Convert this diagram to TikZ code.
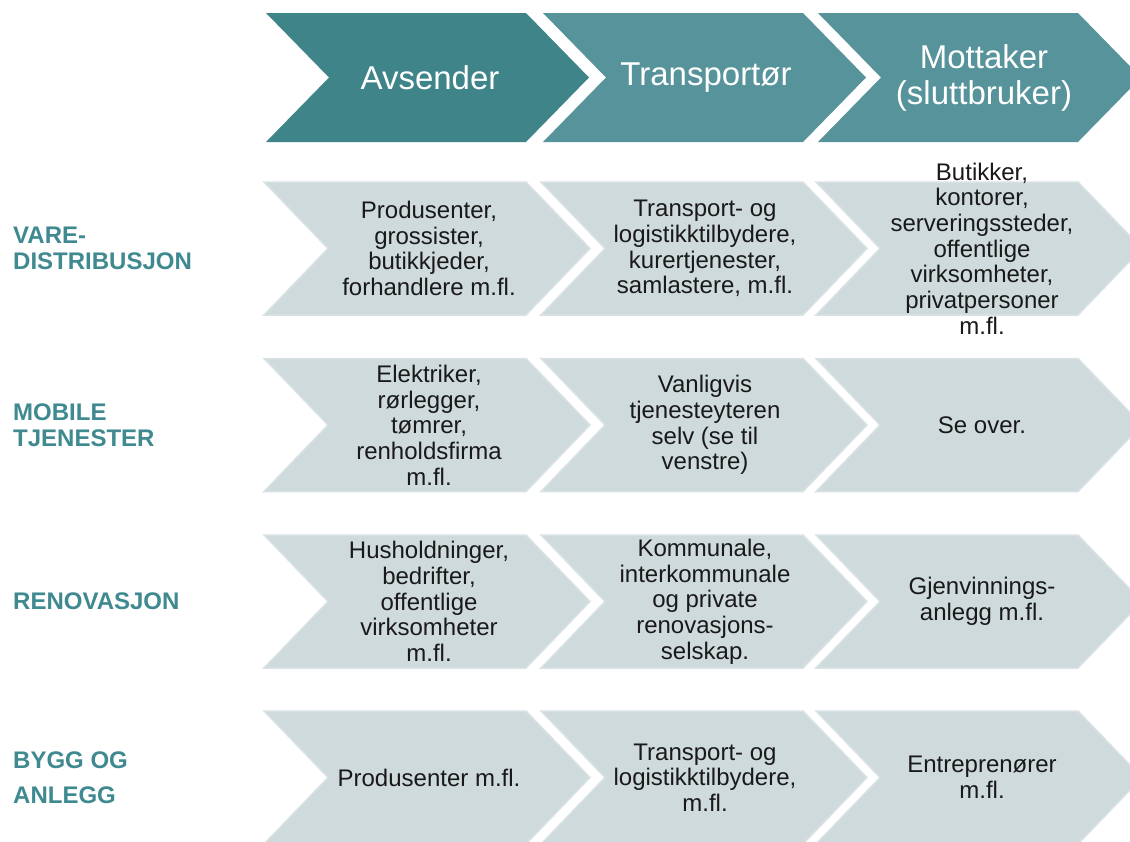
\documentclass[tikz,border=0pt]{standalone}
\usepackage{fontspec}
\setmainfont{Liberation Sans}
\usetikzlibrary{positioning}
\definecolor{headdark}{HTML}{3F8489}
\definecolor{headlight}{HTML}{56939A}
\definecolor{bodyfill}{HTML}{CFDADD}
\definecolor{bodyedge}{HTML}{D9E2E4}
\definecolor{labelteal}{HTML}{3F8990}
\tikzset{chevhead/.style={fill=headlight}}
\tikzset{chevbody/.style={fill=bodyfill,draw=bodyedge,line width=1.5pt}}
\tikzset{headtext/.style={text=white,align=center,inner sep=0pt,
font=\fontsize{33}{36}\selectfont}}
\tikzset{bodytext/.style={text=black!90,align=center,inner sep=0pt,
font=\fontsize{24}{25.7}\selectfont}}
\tikzset{rowlabel/.style={text=labelteal,align=left,anchor=west,inner sep=0pt,
font=\bfseries\fontsize{24}{25.7}\selectfont}}

\begin{document}
\begin{tikzpicture}[x=1pt,y=-1pt]
    \clip (0,0) rectangle (1130,841);
    \fill[white] (0,0) rectangle (1130,841);

    % header chevrons
    \fill[chevhead,fill=headdark] (266,13) -- ++(260,0) -- ++(63,64.5) -- ++(-63,64.5) -- ++(-260,0) -- ++(63,-64.5) -- cycle;
    \foreach \xl in {543,818}
        \fill[chevhead] (\xl,13) -- ++(260,0) -- ++(63,64.5) -- ++(-63,64.5) -- ++(-260,0) -- ++(63,-64.5) -- cycle;

    % body chevrons
    \foreach \yt in {182,358.5,535,711}
        \foreach \xl in {264,541,816}
            \path[chevbody] (\xl,\yt) -- ++(262,0) -- ++(64,66.5) -- ++(-64,66.5) -- ++(-262,0) -- ++(64,-66.5) -- cycle;

    \node[headtext] (hAvs) at (430,77.5) {Avsender};
    \node[headtext] (hTra) at (706,77.5) {Transportør};
    \node[headtext] (hMot) at (984,77.5) {Mottaker\\(sluttbruker)};

    \node[rowlabel] (lVare) at (13,248.5) {VARE-\\DISTRIBUSJON};
    \node[rowlabel] (lMob) at (13,425) {MOBILE\\TJENESTER};
    \node[rowlabel] (lRen) at (13,601.5) {RENOVASJON};
    \node[rowlabel,font=\bfseries\fontsize{24}{35}\selectfont] (lBygg) at (13,777.5) {BYGG OG\\ANLEGG};

    \node[bodytext] (vareA) at (429,248.5) {Produsenter,\\grossister,\\butikkjeder,\\forhandlere m.fl.};
    \node[bodytext] (vareT) at (705,248.5) {Transport- og\\logistikktilbydere,\\kurertjenester,\\samlastere, m.fl.};
    \node[bodytext] (vareM) at (982,248.5) {Butikker,\\kontorer,\\serveringssteder,\\offentlige\\virksomheter,\\privatpersoner\\m.fl.};

    \node[bodytext] (mobA) at (429,425) {Elektriker,\\rørlegger,\\tømrer,\\renholdsfirma\\m.fl.};
    \node[bodytext] (mobT) at (705,425) {Vanligvis\\tjenesteyteren\\selv (se til\\venstre)};
    \node[bodytext] (mobM) at (982,425) {Se over.};

    \node[bodytext] (renA) at (429,601.5) {Husholdninger,\\bedrifter,\\offentlige\\virksomheter\\m.fl.};
    \node[bodytext] (renT) at (705,601.5) {Kommunale,\\interkommunale\\og private\\renovasjons-\\selskap.};
    \node[bodytext] (renM) at (982,601.5) {Gjenvinnings-\\anlegg m.fl.};

    \node[bodytext] (byggA) at (429,777.5) {Produsenter m.fl.};
    \node[bodytext] (byggT) at (705,777.5) {Transport- og\\logistikktilbydere,\\m.fl.};
    \node[bodytext] (byggM) at (982,777.5) {Entreprenører\\m.fl.};
\end{tikzpicture}
\end{document}
